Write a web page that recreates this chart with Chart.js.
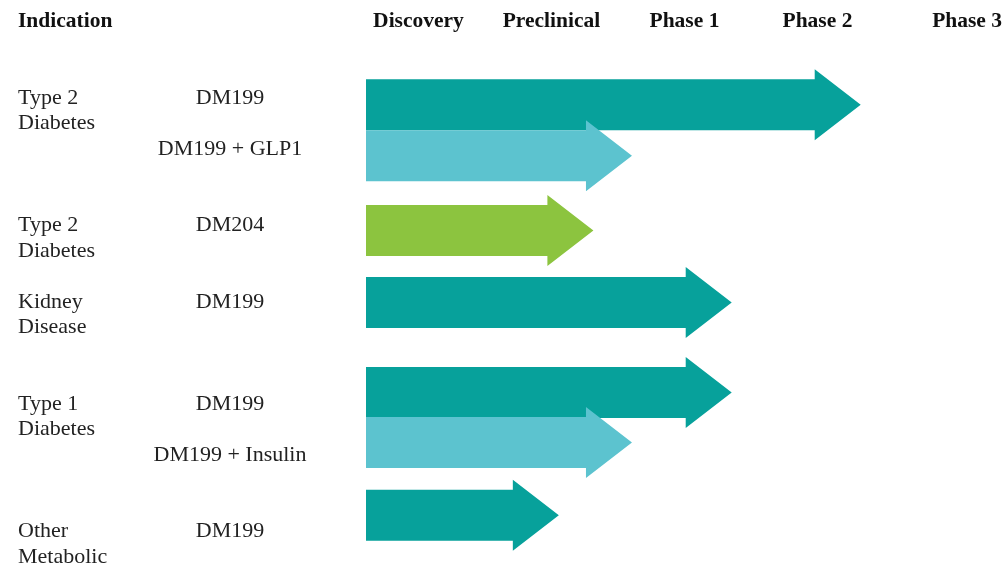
<!DOCTYPE html>
<html><head><meta charset="utf-8">
<script src="https://cdn.jsdelivr.net/npm/chart.js@4"></script>
<style>html,body{margin:0;padding:0;background:#fff}#wrap{width:1003px;height:563px;position:relative}</style>
</head><body><div id="wrap"><canvas id="c"></canvas></div>
<script>
// ---------- data ----------
const stages = ["Discovery", "Preclinical", "Phase 1", "Phase 2", "Phase 3"];
const indicationHeader = "Indication";
const indications = [["Type 2", "Diabetes"], ["Type 2", "Diabetes"], ["Kidney", "Disease"], ["Type 1", "Diabetes"], ["Other", "Metabolic"]];
const programs = ["DM199", "DM199 + GLP1", "DM204", "DM199", "DM199", "DM199 + Insulin", "DM199"];
const programIndication = [0, 0, 1, 2, 3, 3, 4];
const progress = [3.72, 2.0, 1.71, 2.75, 2.75, 2.0, 1.45]; // stage units reached (Discovery starts at 0)

// ---------- layout / style ----------
const rowLine = [0.31, 2.31, 5.24, 8.06, 11.59, 13.55, 16.41]; // arrow rows, in text-line units
const labelLine = [0, 2, 5, 8, 12, 14, 17];                    // program label text lines
const headerLine = -3;
const DARK = "#07a19b", LIGHT = "#5cc3cf", GREEN = "#8cc43f";
const rowColors = [DARK, LIGHT, GREEN, DARK, DARK, LIGHT, DARK];
const SERIF = '"Liberation Serif", "Times New Roman", serif';

const arrowPlugin = {
  id: "arrows",
  beforeDatasetDraw(chart, args) {
    const ctx = chart.ctx;
    const meta = args.meta;
    ctx.save();
    meta.data.forEach((el, i) => {
      const h = el.height, yc = el.y, x0 = el.base, x1 = el.x;
      const head = 46, over = 10, xb = x1 - head;
      ctx.fillStyle = rowColors[i];
      ctx.beginPath();
      ctx.moveTo(x0, yc - h / 2);
      ctx.lineTo(xb, yc - h / 2);
      ctx.lineTo(xb, yc - h / 2 - over);
      ctx.lineTo(x1, yc);
      ctx.lineTo(xb, yc + h / 2 + over);
      ctx.lineTo(xb, yc + h / 2);
      ctx.lineTo(x0, yc + h / 2);
      ctx.closePath();
      ctx.fill();
    });
    ctx.restore();
    return false;
  },
  afterDraw(chart) {
    const ctx = chart.ctx, xs = chart.scales.x, ys = chart.scales.y;
    ctx.save();
    ctx.textBaseline = "middle";
    // headers
    ctx.fillStyle = "#111";
    ctx.font = "bold 21.5px " + SERIF;
    const hy = ys.getPixelForValue(headerLine) + 1.5;
    ctx.textAlign = "left";
    ctx.fillText(indicationHeader, 18, hy);
    stages.forEach((s, i) => {
      if (i === stages.length - 1) {
        ctx.textAlign = "right";
        ctx.fillText(s, chart.chartArea.right - 1, hy);
      } else {
        ctx.textAlign = "center";
        ctx.fillText(s, xs.getPixelForValue(i + 0.5) - 14, hy);
      }
    });
    // program labels
    ctx.fillStyle = "#222";
    ctx.font = "22px " + SERIF;
    programs.forEach((p, i) => {
      ctx.textAlign = "center";
      ctx.fillText(p, 230, ys.getPixelForValue(labelLine[i]) + 1);
    });
    // indication labels
    ctx.textAlign = "left";
    indications.forEach((lines, g) => {
      const first = programIndication.indexOf(g);
      lines.forEach((t, k) => {
        ctx.fillText(t, 18, ys.getPixelForValue(labelLine[first] + k) + 1);
      });
    });
    ctx.restore();
  }
};

new Chart(document.getElementById("c"), {
  type: "bar",
  data: {
    datasets: [{
      data: progress.map((v, i) => ({ x: v, y: rowLine[i] })),
      backgroundColor: rowColors,
      barThickness: 51
    }]
  },
  options: {
    indexAxis: "y",
    responsive: true,
    maintainAspectRatio: false,
    animation: false,
    events: [],
    layout: { padding: { left: 366, right: 0, top: 0, bottom: 0 } },
    plugins: { legend: { display: false }, tooltip: { enabled: false } },
    scales: {
      x: { type: "linear", min: 0, max: 4.79, display: false, offset: false },
      y: { type: "linear", reverse: true, min: -3.8, max: 18.28, display: false, offset: false, grid: { offset: false } }
    }
  },
  plugins: [arrowPlugin]
});
</script>
</body></html>
